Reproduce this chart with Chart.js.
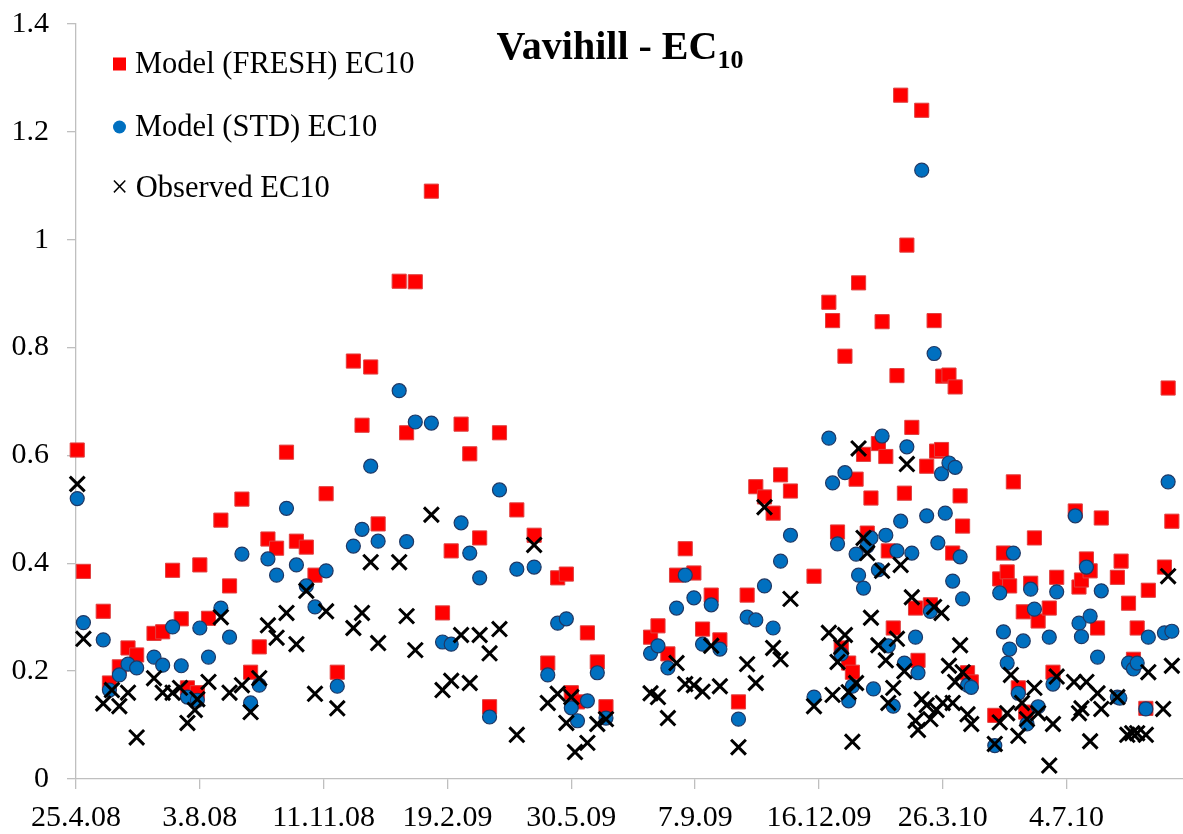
<!DOCTYPE html>
<html>
<head>
<meta charset="utf-8">
<script src="https://cdn.jsdelivr.net/npm/chart.js@4.4.1/dist/chart.umd.min.js"></script>
<style>
  html, body { margin: 0; padding: 0; background: #fff; overflow: hidden; }
  #wrap { width: 1183px; height: 834px; }
</style>
</head>
<body>
<div id="wrap"><canvas id="ec-chart" width="1183" height="834"></canvas></div>
<script>
// days counted from 25.4.2008 (day 0)
const freshDays = [1, 6, 22, 27, 35, 42, 49, 63, 70, 78, 85, 90, 98, 100, 107, 117, 124, 134, 141, 148,
    155, 162, 170, 178, 186, 193, 202, 211, 224, 231, 238, 244, 261, 267, 274, 287, 296, 303, 311, 318,
    326, 334, 342, 356, 370, 381, 389, 396, 400, 405, 413, 421, 428, 464, 470, 478, 485, 492, 499, 506,
    513, 520, 535, 542, 549, 556, 563, 569, 577, 596, 608, 611, 615, 618, 621, 624, 627, 630, 632, 636,
    639, 642, 648, 651, 654, 656, 660, 663, 666, 669, 671, 675, 678, 680, 683, 687, 690, 693, 695, 699,
    700, 705, 708, 710, 714, 716, 720, 723, 742, 746, 749, 752, 754, 757, 761, 765, 767, 771, 774, 777,
    786, 789, 792, 807, 810, 812, 816, 819, 825, 828, 841, 844, 850, 854, 857, 864, 866, 879, 882, 885];
const freshValues = [0.61, 0.385, 0.311, 0.178, 0.208, 0.243, 0.23, 0.27, 0.273, 0.387, 0.297, 0.169, 0.16, 0.397, 0.298, 0.48, 0.358, 0.519, 0.198, 0.245,
    0.445, 0.428, 0.606, 0.441, 0.43, 0.378, 0.529, 0.198, 0.775, 0.656, 0.764, 0.473, 0.923, 0.642, 0.922, 1.09, 0.308, 0.423, 0.658, 0.603,
    0.447, 0.134, 0.642, 0.499, 0.452, 0.215, 0.373, 0.38, 0.16, 0.143, 0.271, 0.217, 0.134, 0.263, 0.284, 0.232, 0.378, 0.427, 0.382, 0.278,
    0.341, 0.258, 0.143, 0.341, 0.542, 0.523, 0.493, 0.564, 0.534, 0.376, 0.884, 0.85, 0.458, 0.243, 0.784, 0.215, 0.198, 0.556, 0.92, 0.602,
    0.456, 0.521, 0.622, 0.848, 0.598, 0.423, 0.28, 0.748, 1.268, 0.53, 0.99, 0.652, 0.317, 0.22, 1.24, 0.58, 0.323, 0.85, 0.608, 0.611,
    0.747, 0.749, 0.419, 0.727, 0.525, 0.469, 0.197, 0.18, 0.118, 0.371, 0.419, 0.384, 0.358, 0.551, 0.169, 0.31, 0.124, 0.363, 0.447, 0.293,
    0.317, 0.198, 0.374, 0.497, 0.356, 0.369, 0.408, 0.386, 0.28, 0.484, 0.374, 0.404, 0.326, 0.222, 0.28, 0.131, 0.35, 0.393, 0.725, 0.478];

const stdDays = [1, 6, 22, 27, 35, 42, 49, 63, 70, 78, 85, 90, 98, 100, 107, 117, 124, 134, 141, 148,
    155, 162, 170, 178, 186, 193, 202, 211, 224, 231, 238, 244, 261, 267, 274, 287, 296, 303, 311, 318,
    326, 334, 342, 356, 370, 381, 389, 396, 400, 405, 413, 421, 428, 464, 470, 478, 485, 492, 499, 506,
    513, 520, 535, 542, 549, 556, 563, 569, 577, 596, 608, 611, 615, 618, 621, 624, 627, 630, 632, 636,
    639, 642, 644, 648, 651, 654, 656, 660, 663, 666, 669, 671, 675, 678, 680, 683, 687, 690, 693, 696,
    699, 702, 705, 708, 710, 714, 716, 720, 723, 742, 746, 749, 752, 754, 757, 761, 765, 768, 771, 774,
    777, 786, 789, 792, 807, 810, 812, 816, 819, 825, 828, 841, 843, 850, 854, 857, 864, 866, 879, 882, 885];
const stdValues = [0.52, 0.29, 0.258, 0.165, 0.193, 0.213, 0.206, 0.226, 0.211, 0.282, 0.21, 0.152, 0.146, 0.28, 0.226, 0.317, 0.263, 0.417, 0.141, 0.174,
    0.408, 0.378, 0.502, 0.397, 0.358, 0.319, 0.386, 0.172, 0.432, 0.463, 0.58, 0.441, 0.72, 0.44, 0.662, 0.66, 0.254, 0.25, 0.475, 0.419,
    0.373, 0.115, 0.536, 0.389, 0.393, 0.193, 0.289, 0.297, 0.132, 0.108, 0.145, 0.197, 0.113, 0.233, 0.247, 0.206, 0.317, 0.378, 0.336, 0.25,
    0.323, 0.241, 0.111, 0.30, 0.295, 0.358, 0.28, 0.404, 0.452, 0.152, 0.632, 0.549, 0.436, 0.232, 0.568, 0.145, 0.172, 0.417, 0.378, 0.354,
    0.432, 0.447, 0.167, 0.388, 0.636, 0.452, 0.247, 0.135, 0.423, 0.478, 0.215, 0.616, 0.419, 0.263, 0.197, 1.129, 0.488, 0.311, 0.789, 0.438,
    0.566, 0.493, 0.586, 0.367, 0.578, 0.412, 0.334, 0.174, 0.17, 0.062, 0.345, 0.273, 0.215, 0.241, 0.419, 0.159, 0.256, 0.102, 0.352, 0.315,
    0.134, 0.263, 0.176, 0.347, 0.488, 0.289, 0.264, 0.393, 0.302, 0.226, 0.349, 0.152, 0.15, 0.215, 0.204, 0.215, 0.13, 0.263, 0.271, 0.551, 0.274];

const obsDays = [1, 6, 22, 29, 35, 42, 49, 63, 70, 78, 84, 90, 96, 98, 107, 117, 124, 134, 141, 148,
    155, 162, 170, 178, 186, 193, 202, 211, 224, 231, 238, 244, 261, 267, 274, 287, 296, 303, 311, 318,
    326, 334, 342, 356, 370, 381, 389, 396, 400, 403, 413, 421, 428, 464, 470, 478, 485, 492, 499, 506,
    513, 520, 535, 542, 549, 556, 563, 569, 577, 596, 608, 611, 615, 618, 621, 624, 627, 630, 632, 636,
    639, 642, 648, 651, 654, 656, 660, 663, 666, 669, 671, 675, 678, 680, 683, 687, 690, 693, 695, 699,
    700, 705, 708, 710, 714, 716, 720, 723, 742, 746, 752, 755, 761, 764, 768, 774, 777, 786, 789, 792,
    806, 810, 812, 816, 819, 825, 828, 841, 849, 853, 857, 864, 866, 878, 882, 885];
const obsValues = [0.547, 0.26, 0.14, 0.165, 0.135, 0.16, 0.077, 0.187, 0.16, 0.16, 0.169, 0.104, 0.128, 0.148, 0.18, 0.30, 0.16, 0.174, 0.124, 0.187,
    0.285, 0.262, 0.308, 0.25, 0.349, 0.158, 0.311, 0.131, 0.28, 0.308, 0.402, 0.252, 0.402, 0.302, 0.239, 0.49, 0.165, 0.182, 0.267, 0.178,
    0.267, 0.233, 0.278, 0.082, 0.434, 0.141, 0.158, 0.104, 0.152, 0.05, 0.067, 0.102, 0.111, 0.159, 0.152, 0.113, 0.215, 0.176, 0.174, 0.162,
    0.247, 0.172, 0.059, 0.213, 0.178, 0.504, 0.243, 0.222, 0.334, 0.135, 0.271, 0.156, 0.217, 0.245, 0.267, 0.161, 0.069, 0.178, 0.613, 0.447,
    0.419, 0.299, 0.248, 0.386, 0.22, 0.141, 0.169, 0.26, 0.397, 0.2, 0.584, 0.337, 0.108, 0.091, 0.148, 0.137, 0.111, 0.319, 0.128, 0.308,
    0.141, 0.21, 0.141, 0.18, 0.248, 0.198, 0.12, 0.102, 0.065, 0.105, 0.122, 0.193, 0.08, 0.141, 0.111, 0.169, 0.122, 0.025, 0.102, 0.19,
    0.18, 0.122, 0.131, 0.18, 0.07, 0.159, 0.13, 0.152, 0.082, 0.085, 0.085, 0.082, 0.198, 0.13, 0.376, 0.21];

const xTicks = [0, 100, 200, 300, 400, 500, 600, 700, 800];   // 25.4.08 ... 4.7.10
const yTicks = [0, 0.2, 0.4, 0.6, 0.8, 1, 1.2, 1.4];

const startDate = new Date(2008, 3, 25);
function dayLabel(d) {
    const t = new Date(startDate.getFullYear(), startDate.getMonth(), startDate.getDate() + d);
    return t.getDate() + '.' + (t.getMonth() + 1) + '.' + String(t.getFullYear()).slice(2);
}
function toPoints(days, vals) {
    return days.map((d, i) => ({ x: d, y: vals[i] }));
}

const serif = "'Liberation Serif', 'Times New Roman', serif";
const axisGray = '#bfbfbf';

// legend + title drawn inside the plot area, like the original
const overlay = {
    id: 'overlay',
    afterDraw(chart) {
        const c = chart.ctx;
        c.save();
        // title
        c.fillStyle = '#000';
        c.textBaseline = 'alphabetic';
        c.font = 'bold 40px ' + serif;
        const main = 'Vavihill - EC';
        const w1 = c.measureText(main).width;
        c.font = 'bold 26px ' + serif;
        const w2 = c.measureText('10').width;
        const x0 = 620 - (w1 + w2) / 2;
        c.font = 'bold 40px ' + serif;
        c.fillText(main, x0, 59);
        c.font = 'bold 26px ' + serif;
        c.fillText('10', x0 + w1, 68);

        // legend
        const items = [
            { text: 'Model (FRESH) EC10', y: 64, kind: 'rect' },
            { text: 'Model (STD) EC10', y: 127, kind: 'circle' },
            { text: '\u00d7 Observed EC10', y: 188, kind: 'none' }
        ];
        c.font = '30.5px ' + serif;
        c.textBaseline = 'middle';
        items.forEach(it => {
            if (it.kind === 'rect') {
                c.fillStyle = '#ff0000';
                c.fillRect(113, it.y - 6.5, 13, 13);
                c.fillStyle = '#000';
                c.fillText(it.text, 135, it.y + 1);
            } else if (it.kind === 'circle') {
                c.fillStyle = '#0070c0';
                c.beginPath();
                c.arc(119.5, it.y, 6.5, 0, Math.PI * 2);
                c.fill();
                c.fillStyle = '#000';
                c.fillText(it.text, 135, it.y + 1);
            } else {
                c.fillStyle = '#000';
                c.fillText(it.text, 111, it.y + 1);
            }
        });
        c.restore();
    }
};

new Chart(document.getElementById('ec-chart').getContext('2d'), {
    type: 'scatter',
    data: {
        datasets: [{
            label: 'Model (FRESH) EC10',
            data: toPoints(freshDays, freshValues),
            pointStyle: 'rect',
            pointRadius: 10,
            backgroundColor: '#ff0000',
            borderColor: '#e04040',
            borderWidth: 1,
            order: 3,
            clip: false
        }, {
            label: 'Model (STD) EC10',
            data: toPoints(stdDays, stdValues),
            pointStyle: 'circle',
            pointRadius: 7,
            backgroundColor: '#0070c0',
            borderColor: '#1f3864',
            borderWidth: 1.2,
            order: 2,
            clip: false
        }, {
            label: 'Observed EC10',
            data: toPoints(obsDays, obsValues),
            pointStyle: 'crossRot',
            pointRadius: 10.5,
            borderColor: '#000000',
            backgroundColor: '#000000',
            borderWidth: 3,
            order: 1,
            clip: false
        }]
    },
    options: {
        responsive: false,
        animation: false,
        layout: { autoPadding: false, padding: { top: 24, left: 0, right: 0, bottom: 0 } },
        plugins: {
            legend: { display: false },
            title: { display: false },
            tooltip: { enabled: false }
        },
        scales: {
            x: {
                type: 'linear',
                min: 0,
                max: 894,
                afterBuildTicks: scale => {
                    scale.ticks = xTicks.map(v => ({ value: v }));
                },
                afterFit: scale => {
                    scale.height = 55;
                    scale.paddingRight = 0;
                },
                ticks: {
                    autoSkip: false,
                    maxRotation: 0,
                    padding: 11,
                    color: '#000',
                    font: { family: serif, size: 30 },
                    callback: v => dayLabel(v)
                },
                grid: { drawOnChartArea: false, tickLength: 10, color: axisGray, lineWidth: 1.3 },
                border: { color: axisGray, width: 1.3 }
            },
            y: {
                min: 0,
                max: 1.4,
                afterBuildTicks: scale => {
                    scale.ticks = yTicks.map(v => ({ value: v }));
                },
                afterFit: scale => {
                    scale.width = 76;
                    scale.paddingTop = 0;
                    scale.paddingBottom = 0;
                },
                ticks: {
                    padding: 18,
                    color: '#000',
                    font: { family: serif, size: 30 },
                    callback: v => String(v)
                },
                grid: { drawOnChartArea: false, tickLength: 9, color: axisGray, lineWidth: 1.3 },
                border: { color: axisGray, width: 1.3 }
            }
        }
    },
    plugins: [overlay]
});
</script>
</body>
</html>
